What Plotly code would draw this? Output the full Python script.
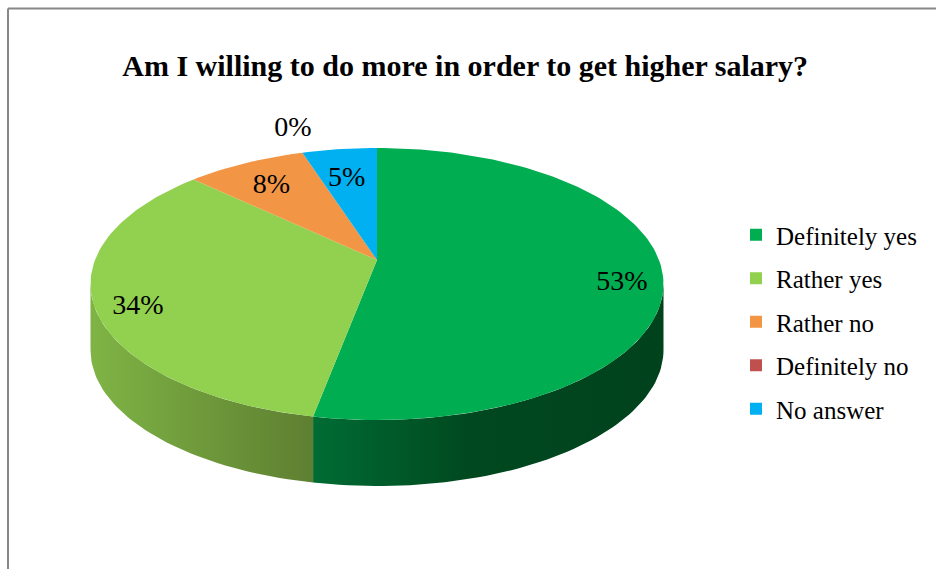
import math
import plotly.graph_objects as go

# Survey answers
categories = ["Definitely yes", "Rather yes", "Rather no", "Definitely no", "No answer"]
shares = [53, 34, 8, 0, 5]
title_text = "Am I willing to do more in order to get higher salary?"

# Styling
TOP_COLORS = ["#00AD50", "#92D050", "#F29646", "#C0504D", "#00B0F0"]
WALL_SCALES = [
    [[0, "#006C34"], [0.45, "#00481F"], [1, "#00421C"]],
    [[0, "#7FB445"], [1, "#5E7F31"]],
    [[0, "#B8662A"], [1, "#9A5220"]],
    [[0, "#8E3532"], [1, "#702826"]],
    [[0, "#0083B4"], [1, "#006A92"]],
]
FONT = "Liberation Serif, Times New Roman, serif"

# Perspective disc geometry (screen pixels)
CX, CY = 377, 260          # centre of the disc
RX, RY = 282, 131.8        # radii of the projected disc
PERSP = 0.1765             # perspective strength
DEPTH = 66                 # thickness of the disc
N_STEP = 240


def project(theta_deg, r=1.0, drop=0.0):
    """Project a point of the disc (angle clockwise from the back) to the page."""
    th = math.radians(theta_deg)
    u = r * math.sin(th)
    v = -r * math.cos(th)
    d = 1 - PERSP * v
    return CX + RX * u / d, CY + RY * v / d + drop


def arc(t1, t2, drop=0.0):
    n = max(2, int(abs(t2 - t1) / 360 * N_STEP) + 2)
    pts = [project(t1 + (t2 - t1) * i / (n - 1), 1.0, drop) for i in range(n)]
    return [p[0] for p in pts], [p[1] for p in pts]


# Slice angles
total = sum(shares)
starts, ends = [], []
acc = 0.0
for s in shares:
    starts.append(acc / total * 360)
    acc += s
    ends.append(acc / total * 360)

# Visible part of the outer wall lies between the two silhouette points
vis_a = math.degrees(math.acos(-PERSP))
vis_b = 360 - vis_a

fig = go.Figure()

# Outer walls
for i, cat in enumerate(categories):
    a = max(starts[i], vis_a)
    b = min(ends[i], vis_b)
    if b <= a:
        continue
    xt, yt = arc(a, b)
    xb, yb = arc(b, a, DEPTH)
    fig.add_trace(go.Scatter(
        x=xt + xb + [xt[0]], y=yt + yb + [yt[0]],
        mode="lines", fill="toself", line=dict(width=0),
        fillgradient=dict(type="horizontal", colorscale=WALL_SCALES[i]),
        hoverinfo="skip", showlegend=False,
    ))

# Top faces
for i, cat in enumerate(categories):
    if shares[i] <= 0:
        continue
    xt, yt = arc(starts[i], ends[i])
    fig.add_trace(go.Scatter(
        x=[CX] + xt + [CX], y=[CY] + yt + [CY],
        mode="lines", fill="toself", fillcolor=TOP_COLORS[i],
        line=dict(width=0), hoverinfo="skip", showlegend=False,
    ))

# Percentage labels (radial placement and vertical nudge per slice)
label_r = [0.86, 0.85, 0.78, 1.15, 0.78]
label_drop = [12, 11, 4, -10, 8]
lx, ly, lt = [], [], []
for i, s in enumerate(shares):
    mid = (starts[i] + ends[i]) / 2
    x, y = project(mid, label_r[i], label_drop[i])
    lx.append(x)
    ly.append(y)
    lt.append(f"{s}%")
fig.add_trace(go.Scatter(
    x=lx, y=ly, text=lt, mode="text",
    textfont=dict(family=FONT, size=28, color="#000000"),
    textposition="middle center", hoverinfo="skip", showlegend=False,
))

# Legend entries
for i, cat in enumerate(categories):
    fig.add_trace(go.Scatter(
        x=[None], y=[None], mode="markers", name=cat, legendgroup=cat,
        marker=dict(symbol="square", size=12, color=TOP_COLORS[i]),
    ))

# Chart frame
fig.add_shape(type="line", x0=8, y0=8.5, x1=936, y1=8.5,
              line=dict(color="#878787", width=2), layer="above")
fig.add_shape(type="line", x0=8, y0=8.5, x1=8, y1=569,
              line=dict(color="#878787", width=2), layer="above")

fig.update_layout(
    width=936, height=569,
    margin=dict(l=0, r=0, t=0, b=0),
    paper_bgcolor="white", plot_bgcolor="white",
    xaxis=dict(range=[0, 936], visible=False, fixedrange=True),
    yaxis=dict(range=[569, 0], visible=False, fixedrange=True),
    title=dict(text=f"<b>{title_text}</b>", x=0.497, xanchor="center",
               y=1 - 65 / 569, yanchor="middle",
               font=dict(family=FONT, size=30, color="#000000")),
    legend=dict(x=736 / 936, y=1 - 212 / 569, xanchor="left", yanchor="top",
                font=dict(family=FONT, size=25, color="#000000"),
                tracegroupgap=8, itemclick=False, itemdoubleclick=False,
                bgcolor="rgba(0,0,0,0)"),
    showlegend=True,
)

fig.write_html("out.html")
